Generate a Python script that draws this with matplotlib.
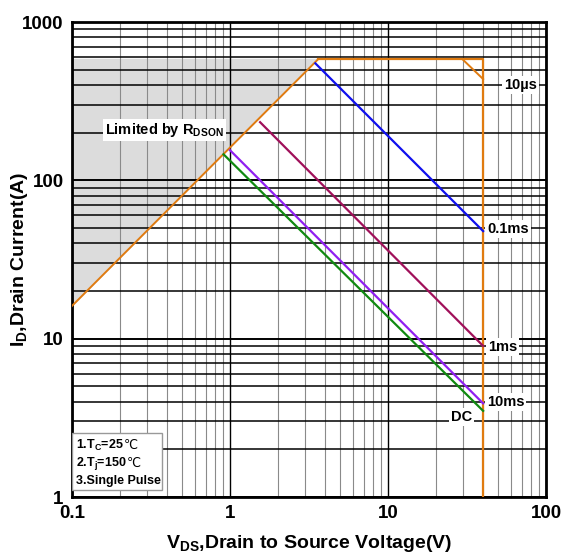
import numpy as np
import matplotlib
matplotlib.use('Agg')
import matplotlib.pyplot as plt
from matplotlib.patches import Rectangle
from matplotlib.ticker import FixedLocator, FixedFormatter, LogLocator, NullFormatter

plt.rcParams['font.family'] = ['Liberation Sans', 'DejaVu Sans']
plt.rcParams['font.weight'] = 'bold'
plt.rcParams['mathtext.fontset'] = 'custom'
plt.rcParams['mathtext.rm'] = 'Liberation Sans:bold'
plt.rcParams['mathtext.default'] = 'rm'

# dados (V, A)
rdson_v = [0.1, 3.6]
rdson_i = [16.1, 580]
outline_v = [3.6, 40, 40]
outline_i = [580, 580, 1]
us10_v = [29.7, 40]
us10_i = [580, 436]
ms01_v = [3.47, 40]
ms01_i = [548, 47.8]
ms1_v = [1.55, 40]
ms1_i = [233, 9.0]
ms10_v = [1.0, 40]
ms10_i = [155, 3.9]
dc_v = [0.91, 40]
dc_i = [146, 3.5]

# regiao limitada pelo Rdson
shade_v = [0.1, 3.6, 0.1]
shade_i = [16.1, 580, 580]

fig = plt.figure(figsize=(5.71, 5.57), dpi=100)
ax = fig.add_axes([72/571, 1-497/557, (546-72)/571, (497-22)/557])
ax.set_xscale('log')
ax.set_yscale('log')
ax.set_xlim(0.1, 100)
ax.set_ylim(1, 1000)

ax.fill(shade_v, shade_i, color='#dcdcdc', zorder=0)

# grades
ax.xaxis.set_minor_locator(LogLocator(base=10, subs=np.arange(2, 10)))
ax.yaxis.set_minor_locator(LogLocator(base=10, subs=np.arange(2, 10)))
ax.xaxis.set_minor_formatter(NullFormatter())
ax.yaxis.set_minor_formatter(NullFormatter())
ax.grid(True, which='major', axis='x', color='black', lw=1.0, zorder=1)
ax.grid(True, which='minor', axis='x', color='#8a8a8a', lw=0.8, zorder=1)
ax.grid(True, which='major', axis='y', color='black', lw=1.4, zorder=1)
ax.grid(True, which='minor', axis='y', color='black', lw=1.1, zorder=1)
ax.set_axisbelow(True)

c_or = '#e07b10'
ax.plot(rdson_v, rdson_i, color=c_or, lw=1.4, zorder=3)
ax.plot(outline_v, outline_i, color=c_or, lw=1.6, zorder=3)
ax.plot(us10_v, us10_i, color=c_or, lw=1.4, zorder=3)
ax.plot(ms01_v, ms01_i, color='#1010ee', lw=1.6, zorder=3)
ax.plot(ms1_v, ms1_i, color='#a0105a', lw=1.6, zorder=3)
ax.plot(ms10_v, ms10_i, color='#9020f0', lw=1.6, zorder=3)
ax.plot(dc_v, dc_i, color='#108a10', lw=1.6, zorder=3)

box = dict(facecolor='white', edgecolor='none', pad=1.5)
ax.text(68.7, 400, '10µs', ha='center', va='center', fontsize=10.5, bbox=box, zorder=4)
ax.text(57.7, 49, '0.1ms', ha='center', va='center', fontsize=10.5, bbox=box, zorder=4)
ax.text(53, 8.85, '1ms', ha='center', va='center', fontsize=10.5, bbox=box, zorder=4)
ax.text(55.4, 4.0, '10ms', ha='center', va='center', fontsize=10.5, bbox=box, zorder=4)
ax.text(29.2, 3.2, 'DC', ha='center', va='center', fontsize=10.5, bbox=box, zorder=4)
ax.text(0.162, 208, r'Limited by R$_{\mathrm{DSON}}$', ha='left', va='center', fontsize=10.5,
        bbox=box, zorder=4)

# caixa de notas (cada linha em partes para o simbolo ℃ sair na fonte DejaVu)
ax.add_patch(Rectangle((0.0, 0.015), 0.19, 0.12, transform=ax.transAxes, facecolor='white',
                       edgecolor='#999999', lw=1, zorder=5))
notas = [('1.T$_{\\mathrm{C}}$=25', '℃'), ('2.T$_{\\mathrm{j}}$=150', '℃'), ('3.Single Pulse', '')]
ys = [0.109, 0.071, 0.033]
for (t1, t2), yy in zip(notas, ys):
    tx = ax.text(0.008, yy, t1, transform=ax.transAxes, ha='left', va='center',
                 fontsize=9, zorder=6)
    if t2:
        fig.canvas.draw()
        bb = tx.get_window_extent().transformed(ax.transAxes.inverted())
        ax.text(bb.x1, yy, t2, transform=ax.transAxes, ha='left', va='center',
                fontsize=9, family='DejaVu Sans', fontweight='normal', zorder=6)

ax.xaxis.set_major_locator(FixedLocator([0.1, 1, 10, 100]))
ax.xaxis.set_major_formatter(FixedFormatter(['0.1', '1', '10', '100']))
ax.yaxis.set_major_locator(FixedLocator([1, 10, 100, 1000]))
ax.yaxis.set_major_formatter(FixedFormatter(['1', '10', '100', '1000']))
ax.tick_params(which='both', length=0, labelsize=13.5, pad=6)
for lab in ax.get_xticklabels() + ax.get_yticklabels():
    lab.set_fontweight('bold')

for s in ax.spines.values():
    s.set_linewidth(2)
    s.set_color('black')

ax.set_xlabel('V$_{\\mathrm{DS}}$,Drain to Source Voltage(V)', fontsize=14, fontweight='bold', labelpad=8)
ax.set_ylabel('I$_{\\mathrm{D}}$,Drain Current(A)', fontsize=14, fontweight='bold')
ax.yaxis.set_label_coords(-0.088, 0.5)

fig.savefig('out.png', dpi=100)
